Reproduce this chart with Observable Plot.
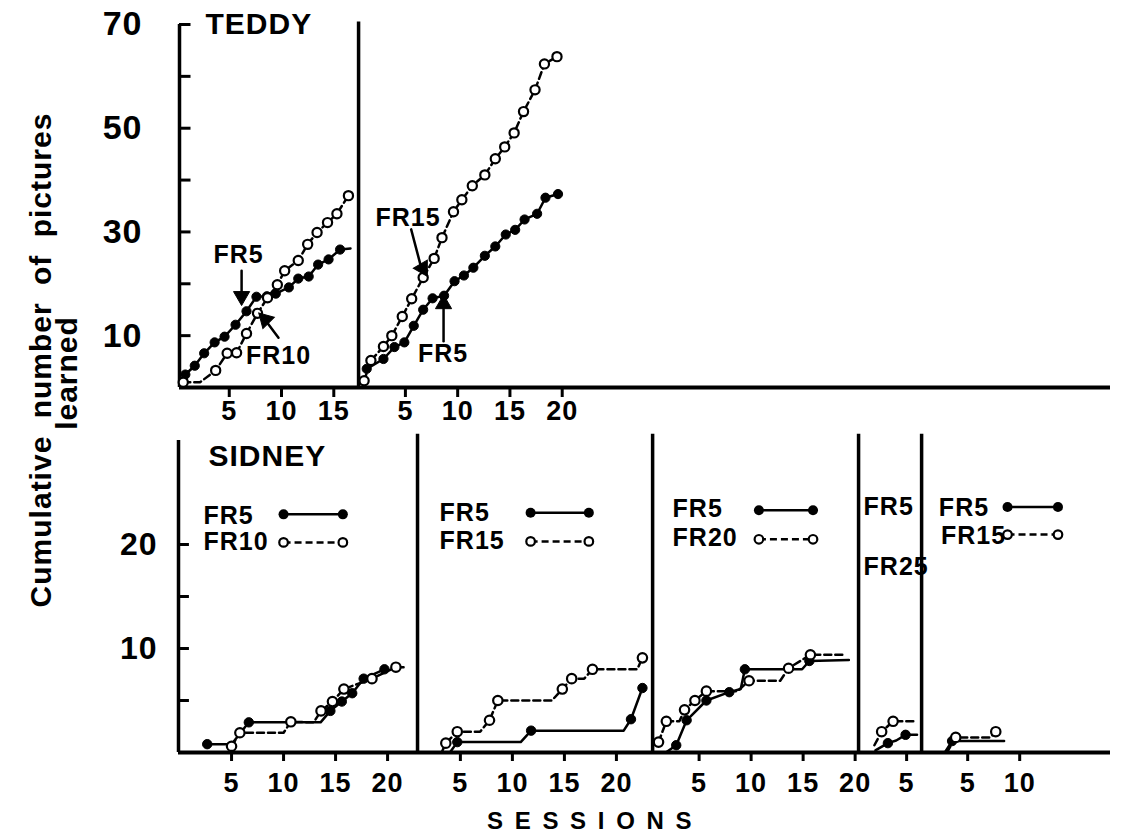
<!DOCTYPE html>
<html>
<head>
<meta charset="utf-8">
<script src="https://cdn.jsdelivr.net/npm/d3@7"></script>
<script src="https://cdn.jsdelivr.net/npm/@observablehq/plot@0.6"></script>
<style>
  body { margin: 0; background: #fff; }
  #wrap { position: relative; width: 1121px; height: 833px; overflow: hidden;
          font-family: "Liberation Sans", Arial, sans-serif; font-weight: bold; color: #000; background: #fff; }
  #top, #bottom { position: absolute; left: 0; }
  #top { top: 0; }
  #bottom { top: 430px; }
  svg text { letter-spacing: 1px; }
  .ylab { position: absolute; white-space: pre; font-size: 30px; line-height: 30px;
          transform: translate(-50%, -50%) rotate(-90deg); letter-spacing: 1px; word-spacing: 8px; }
  .xlab { position: absolute; white-space: pre; font-size: 24px; line-height: 20px; letter-spacing: 11.7px; }
</style>
</head>
<body>
<div id="wrap">
  <div id="top"></div>
  <div id="bottom"></div>
  <div class="ylab" style="left:41px; top:360px;">Cumulative number of pictures</div>
  <div class="ylab" style="left:67px; top:373px;">learned</div>
  <div class="xlab" style="left:487px; top:811px;">SESSIONS</div>
</div>
<script>
// ---------- DATA ----------
// Each point: [session within phase, cumulative number of pictures learned, marker drawn (1) or line vertex only (0)]
// TEDDY
const teddy1FR5  = [[0.8,2.5,1],[1.7,4.2,1],[2.6,6.6,1],[3.6,8.7,1],[4.55,9.8,1],[5.6,12.1,1],[6.65,14.7,1],[7.6,17.5,1],[8.6,17.6,1],[9.45,18.1,1],[10.7,19.3,1],[11.6,21.0,1],[12.6,21.4,1],[13.5,23.7,1],[14.5,24.7,1],[15.6,26.6,1],[16.6,26.8,0]];
const teddy1FR10 = [[0.6,1.0,1],[2.2,1.0,0],[3.7,3.3,1],[4.8,6.6,1],[5.7,6.7,1],[6.65,10.4,1],[7.7,14.3,1],[8.66,17.3,1],[9.6,19.8,1],[10.3,22.5,1],[11.6,24.5,1],[12.5,27.6,1],[13.4,29.9,1],[14.4,31.8,1],[15.3,33.5,1],[16.4,37.0,1]];
const teddy2FR5  = [[1.3,3.6,1],[2.9,5.5,1],[3.95,7.8,1],[4.9,8.7,1],[5.8,11.9,1],[6.7,15.0,1],[7.6,17.2,1],[8.7,17.7,1],[9.7,20.5,1],[10.6,21.6,1],[11.5,23.1,1],[12.6,25.4,1],[13.6,27.2,1],[14.6,29.5,1],[15.5,30.4,1],[16.4,32.4,1],[17.6,33.5,1],[18.4,36.6,1],[19.6,37.3,1]];
const teddy2FR15 = [[1.05,1.3,1],[1.7,5.2,1],[2.9,7.9,1],[3.7,10.0,1],[4.7,13.7,1],[5.6,17.1,1],[6.7,21.2,1],[7.75,24.9,1],[8.5,28.9,1],[9.6,33.9,1],[10.4,36.2,1],[11.4,38.9,1],[12.6,41.0,1],[13.6,44.1,1],[14.5,46.4,1],[15.4,49.1,1],[16.3,53.2,1],[17.4,57.4,1],[18.3,62.4,1],[19.5,63.8,1]];
// SIDNEY
const sidney1FR5  = [[2.66,0.8,1],[5.0,0.8,0],[6.66,2.9,1],[13.56,2.9,0],[14.5,4.0,1],[15.6,4.9,1],[16.6,5.7,1],[17.7,7.1,1],[19.7,8.0,1]];
const sidney1FR10 = [[5.0,0.6,1],[5.8,1.9,1],[10.0,1.9,0],[10.7,2.95,1],[12.9,2.9,0],[13.6,4.0,1],[14.7,4.9,1],[15.8,6.1,1],[18.5,7.1,1],[20.8,8.2,1],[21.9,8.2,0]];
const sidney2FR5  = [[4.06,0.1,0],[4.7,1.0,1],[10.8,1.0,0],[11.8,2.1,1],[20.7,2.1,0],[21.4,3.2,1],[22.5,6.2,1]];
const sidney2FR15 = [[3.2,0,0],[3.6,0.9,1],[4.7,2.0,1],[6.9,2.0,0],[7.8,3.1,1],[8.6,5.0,1],[13.8,5.0,0],[14.8,6.1,1],[15.7,7.1,1],[16.9,7.1,0],[17.7,8.0,1],[22.0,8.0,0],[22.5,9.1,1]];
const sidney3FR5  = [[1.8,0,0],[2.8,0.7,1],[3.8,3.1,1],[5.7,5.0,1],[7.9,5.8,1],[9.0,6.1,0],[9.4,8.0,1],[14.9,8.0,0],[15.6,8.8,1],[19.4,8.9,0]];
const sidney3FR20 = [[1.1,1.0,1],[1.85,3.0,1],[3.1,3.0,0],[3.6,4.1,1],[4.6,5.0,1],[5.7,5.9,1],[8.7,5.9,0],[9.8,6.9,1],[12.8,6.9,0],[13.6,8.1,1],[15.7,9.4,1],[19.1,9.4,0]];
const sidney4FR5  = [[2.0,0.2,0],[3.2,0.9,1],[4.0,1.15,0],[4.9,1.7,1],[6.0,1.7,0]];
const sidney4FR25 = [[1.9,0.7,0],[2.6,2.0,1],[3.7,3.0,1],[5.9,3.0,0]];
const sidney5FR5  = [[2.8,0,0],[3.5,1.1,1],[8.5,1.1,0]];
const sidney5FR15 = [[3.0,0,0],[3.85,1.45,1],[7.2,1.45,0],[7.7,2.0,1]];

// Legend labels for the Sidney phases
const sidneyLegends = [["FR5","FR10"],["FR5","FR15"],["FR5","FR20"],["FR5","FR25"],["FR5","FR15"]];
// Annotation labels for Teddy
const teddyLabels = ["FR5","FR10","FR15","FR5"];
// Tick labels
const teddyTickLabels  = [[5,10,15],[5,10,15,20]];
const sidneyTickLabels = [[5,10,15,20],[5,10,15,20],[5,10,15,20],[5],[5,10]];
const teddyYTicks  = [10,20,30,40,50,60,70];
const teddyYLabels = [10,30,50,70];
const sidneyYTicks  = [5,10,15,20];
const sidneyYLabels = [10,20];

// ---------- LAYOUT (phase offsets along a shared session axis) ----------
const teddyOffsets  = [0, 16.85];
const teddyDividers = [17.37];
const teddyX = [0.24, 89.3];
const sidneyOffsets  = [0, 22.0, 44.95, 64.9, 70.77];
const sidneyDividers = [22.88, 45.48, 65.28, 71.34];
const sidneyX = [-0.1, 89.5];

const FONT = '"Liberation Sans", Arial, sans-serif';

function rows(series) {
  return series.flatMap((s, k) => s.pts.map(([x, y, m]) => ({g: s.off + x, v: y, m, k, filled: s.filled})));
}
function tickRows(labels, offsets) {
  return labels.flatMap((arr, p) => arr.map(l => ({g: +(offsets[p] + l).toFixed(4), label: String(l)})));
}
function seriesMarks(data, r, lw) {
  const f = data.filter(d => d.filled), o = data.filter(d => !d.filled);
  return [
    Plot.line(f, {x: "g", y: "v", z: "k", stroke: "black", strokeWidth: lw}),
    Plot.line(o, {x: "g", y: "v", z: "k", stroke: "black", strokeWidth: lw, strokeDasharray: "7,4"}),
    Plot.dot(f.filter(d => d.m), {x: "g", y: "v", r, fill: "black", stroke: "black", strokeWidth: 1}),
    Plot.dot(o.filter(d => d.m), {x: "g", y: "v", r, fill: "white", stroke: "black", strokeWidth: 2.2})
  ];
}

// ---------- TEDDY ----------
const teddyData = rows([
  {off: teddyOffsets[0], pts: teddy1FR5, filled: true},
  {off: teddyOffsets[0], pts: teddy1FR10, filled: false},
  {off: teddyOffsets[1], pts: teddy2FR5, filled: true},
  {off: teddyOffsets[1], pts: teddy2FR15, filled: false}
]);
const tTicks = tickRows(teddyTickLabels, teddyOffsets);
const tNotes = [
  {text: teddyLabels[0], x: 5.89, y: 25.6},
  {text: teddyLabels[1], x: 9.71, y: 6.0},
  {text: teddyLabels[2], x: 22.1, y: 32.7},
  {text: teddyLabels[3], x: 25.45, y: 6.4}
];
const tArrows = [
  {x1: 6.18, y1: 22.5, x2: 6.18, y2: 18.2, bend: 0, hx: 6.18, hy: 17.6, rot: 180},
  {x1: 9.71, y1: 9.6, x2: 8.6, y2: 12.6, bend: 0, hx: 8.45, hy: 13.1, rot: -45},
  {x1: 22.4, y1: 30.5, x2: 23.3, y2: 23.6, bend: -20, hx: 23.5, hy: 23.0, rot: 150},
  {x1: 25.5, y1: 8.9, x2: 25.5, y2: 15.6, bend: 0, hx: 25.5, hy: 16.1, rot: 0}
];

const topPlot = Plot.plot({
  width: 1121, height: 430,
  marginLeft: 179, marginRight: 11, marginTop: 24, marginBottom: 43,
  x: {domain: teddyX, axis: null},
  y: {domain: [0, 70], axis: null},
  style: {fontFamily: FONT, fontWeight: "bold", background: "white", color: "black"},
  marks: [
    Plot.ruleY([0], {x1: teddyX[0], x2: teddyX[1], strokeWidth: 4}),
    Plot.ruleX([teddyX[0]], {y1: 0, y2: 70, strokeWidth: 3.5}),
    Plot.ruleX(teddyDividers, {y1: 0, y2: 70.5, strokeWidth: 3.5}),
    Plot.ruleY(teddyYTicks, {x1: teddyX[0], x2: teddyX[0] + 1.1, strokeWidth: 3}),
    Plot.axisX(tTicks.map(d => d.g), {
      tickFormat: d => (tTicks.find(t => Math.abs(t.g - d) < 1e-6) || {label: ""}).label,
      tickSize: 10, strokeWidth: 3, fontSize: 27, tickPadding: 3
    }),
    Plot.axisY(teddyYLabels, {tickSize: 0, tickPadding: 37, fontSize: 34}),
    ...seriesMarks(teddyData, 4.6, 2.5),
    Plot.text(["TEDDY"], {x: 2.73, y: 70.1, textAnchor: "start", fontSize: 30}),
    Plot.text(tNotes, {x: "x", y: "y", text: "text", fontSize: 25}),
    Plot.arrow(tArrows, {x1: "x1", y1: "y1", x2: "x2", y2: "y2", bend: "bend", stroke: "black", strokeWidth: 2.5, headLength: 0}),
    Plot.dot(tArrows, {x: "hx", y: "hy", symbol: "triangle", rotate: "rot", r: 6, fill: "black", stroke: "black", strokeWidth: 1})
  ]
});
document.getElementById("top").append(topPlot);

// ---------- SIDNEY ----------
const sidneySeriesList = [
  [sidney1FR5, sidney1FR10], [sidney2FR5, sidney2FR15], [sidney3FR5, sidney3FR20],
  [sidney4FR5, sidney4FR25], [sidney5FR5, sidney5FR15]
];
const sidneyData = rows(sidneySeriesList.flatMap((pair, p) => [
  {off: sidneyOffsets[p], pts: pair[0], filled: true},
  {off: sidneyOffsets[p], pts: pair[1], filled: false}
]));
const sTicks = tickRows(sidneyTickLabels, sidneyOffsets);

// legend placement per phase (shared session axis / count units)
const legendLayout = [
  {tx: [2.3, 2.3],   ty: [22.7, 20.2], lx: [10.0, 15.7],  ly: [22.9, 20.2]},
  {tx: [25.0, 25.0], ty: [23.0, 20.3], lx: [33.75, 39.35], ly: [23.05, 20.3]},
  {tx: [47.4, 47.4], ty: [23.4, 20.6], lx: [55.7, 60.9],  ly: [23.3, 20.5]},
  {tx: [65.76, 65.76], ty: [23.6, 17.8], lx: null, ly: null},
  {tx: [73.0, 73.2], ty: [23.5, 20.8], lx: [79.6, 84.45], ly: [23.6, 20.95]}
];
const legendText = sidneyLegends.flatMap((labs, p) => labs.map((l, i) => ({text: l, x: legendLayout[p].tx[i], y: legendLayout[p].ty[i], p})));
const legendLines = sidneyLegends.flatMap((labs, p) => legendLayout[p].lx ? labs.map((l, i) => ({x1: legendLayout[p].lx[0], x2: legendLayout[p].lx[1], y: legendLayout[p].ly[i], filled: i === 0})) : []);
const legendDots = legendLines.flatMap(d => [{x: d.x1, y: d.y, filled: d.filled}, {x: d.x2, y: d.y, filled: d.filled}]);

const bottomPlot = Plot.plot({
  width: 1121, height: 403,
  marginLeft: 178, marginRight: 11, marginTop: 10, marginBottom: 81,
  x: {domain: sidneyX, axis: null},
  y: {domain: [0, 30], axis: null},
  style: {fontFamily: FONT, fontWeight: "bold", background: "white", color: "black"},
  marks: [
    Plot.ruleY([0], {x1: sidneyX[0], x2: sidneyX[1], strokeWidth: 4}),
    Plot.ruleX([sidneyX[0]], {y1: 0, y2: 30, strokeWidth: 3.5}),
    Plot.ruleX(sidneyDividers, {y1: 0, y2: 30.6, strokeWidth: 3.5}),
    Plot.ruleY(sidneyYTicks, {x1: sidneyX[0], x2: sidneyX[0] + 1.05, strokeWidth: 3}),
    Plot.axisX(sTicks.map(d => d.g), {
      tickFormat: d => (sTicks.find(t => Math.abs(t.g - d) < 1e-6) || {label: ""}).label,
      tickSize: 9, strokeWidth: 3, fontSize: 27, tickPadding: 11
    }),
    Plot.axisY(sidneyYLabels, {tickSize: 0, tickPadding: 21, fontSize: 32}),
    ...seriesMarks(sidneyData, 4.7, 2.5),
    Plot.text(["SIDNEY"], {x: 2.78, y: 28.46, textAnchor: "start", fontSize: 30}),
    Plot.text(legendText, {x: "x", y: "y", text: "text", textAnchor: "start", fontSize: 25}),
    Plot.link(legendLines.filter(d => d.filled), {x1: "x1", x2: "x2", y1: "y", y2: "y", stroke: "black", strokeWidth: 2.5}),
    Plot.link(legendLines.filter(d => !d.filled), {x1: "x1", x2: "x2", y1: "y", y2: "y", stroke: "black", strokeWidth: 2.5, strokeDasharray: "7,4"}),
    Plot.dot(legendDots.filter(d => d.filled), {x: "x", y: "y", r: 5, fill: "black"}),
    Plot.dot(legendDots.filter(d => !d.filled), {x: "x", y: "y", r: 4.3, fill: "white", stroke: "black", strokeWidth: 2.2})
  ]
});
document.getElementById("bottom").append(bottomPlot);
</script>
</body>
</html>
